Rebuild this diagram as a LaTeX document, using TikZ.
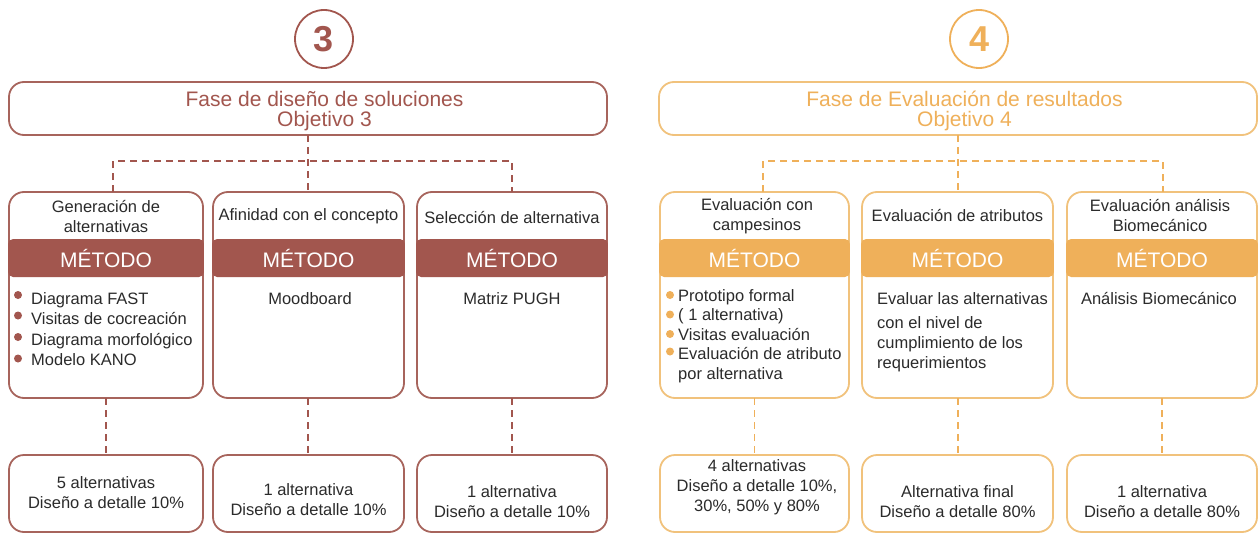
\documentclass[tikz,border=0pt]{standalone}
\usepackage{fontspec}
\setmainfont{Liberation Sans}
\definecolor{brn}{HTML}{A2564E}
\definecolor{brnline}{HTML}{A7645C}
\definecolor{gld}{HTML}{EFB05A}
\definecolor{gldline}{HTML}{F1C27C}
\definecolor{txt}{HTML}{2B2B2B}
\tikzset{
  pbox/.style={draw=#1, line width=1.8pt, rounded corners=15pt, fill=white, inner sep=0pt, outer sep=0pt},
  barbox/.style={fill=#1, rounded corners=5pt, inner sep=0pt, outer sep=0pt, text=white, font=\fontsize{21}{21}\selectfont},
  link/.style={draw=#1, line width=1.6pt, dash pattern=on 7pt off 5pt},
  numc/.style={circle, draw=#1, line width=1.8pt, minimum size=58pt, inner sep=0pt, text=#1, font=\fontsize{36}{36}\selectfont\bfseries},
  ttl/.style={text=#1, font=\fontsize{21}{20}\selectfont, align=center, inner sep=0pt},
  body/.style={text=txt, font=\fontsize{16.5}{20}\selectfont, align=center, inner sep=0pt},
  item/.style={text=txt, font=\fontsize{16.5}{20}\selectfont, anchor=base west, inner sep=0pt},
  dotb/.style={circle, fill=#1, minimum size=8pt, inner sep=0pt},
}
\begin{document}
\begin{tikzpicture}[x=1pt,y=-1pt]
\useasboundingbox[fill=white] (0,0) rectangle (1260,535);

% ================= LEFT: phase 3 =================
\node[numc=brn] (C3) at (324,39) {3};
\node[pbox=brnline, minimum width=598pt, minimum height=53pt] (T3) at (308,108.5) {};
\node[ttl=brn] (T3t) at (324.5,111) {Fase de diseño de soluciones\\Objetivo 3};

\node[pbox=brnline, minimum width=194pt, minimum height=206pt] (B31) at (106,295) {};
\node[pbox=brnline, minimum width=191pt, minimum height=206pt] (B32) at (308.5,295) {};
\node[pbox=brnline, minimum width=190pt, minimum height=206pt] (B33) at (512,295) {};

\node[barbox=brn, minimum width=195.8pt, minimum height=38pt] (M31) at (106,258) {MÉTODO};
\node[barbox=brn, minimum width=192.8pt, minimum height=38pt] (M32) at (308.5,258) {MÉTODO};
\node[barbox=brn, minimum width=191.8pt, minimum height=38pt] (M33) at (512,258) {MÉTODO};

\node[body] (H31) at (106,217) {Generación de\\alternativas};
\node[body] (H32) at (308.5,216) {Afinidad con el concepto};
\node[body] (H33) at (512,218) {Selección de alternativa};

\node[item] (L1) at (31,304) {Diagrama FAST};
\node[item] (L2) at (31,324.5) {Visitas de cocreación};
\node[item] (L3) at (31,345) {Diagrama morfológico};
\node[item] (L4) at (31,365.5) {Modelo KANO};
\node[dotb=brn] (d1) at (18,295) {};
\node[dotb=brn] (d2) at (18,315.5) {};
\node[dotb=brn] (d3) at (18,337) {};
\node[dotb=brn] (d4) at (18,358.5) {};

\node[body] (P32) at (310,299) {Moodboard};
\node[body] (P33) at (512,299) {Matriz PUGH};

\node[pbox=brnline, minimum width=194pt, minimum height=77pt] (D31) at (106,493.5) {};
\node[pbox=brnline, minimum width=191pt, minimum height=77pt] (D32) at (308.5,493.5) {};
\node[pbox=brnline, minimum width=190pt, minimum height=77pt] (D33) at (512,493.5) {};
\node[body] (E31) at (106,493) {5 alternativas\\Diseño a detalle 10\%};
\node[body] (E32) at (308.5,500) {1 alternativa\\Diseño a detalle 10\%};
\node[body] (E33) at (512,502) {1 alternativa\\Diseño a detalle 10\%};

\coordinate (hL1) at (113,161);
\coordinate (hL3) at (512,161);
\draw[link=brn] (T3.south) -- (T3.south |- B32.north);
\draw[link=brn] (B31.north -| hL1) -- (hL1) -- (hL3) -- (B33.north -| hL3);
\draw[link=brn] (B31.south) -- (D31.north);
\draw[link=brn] (B32.south -| T3.south) -- (D32.north -| T3.south);
\draw[link=brn] (B33.south) -- (D33.north);

% ================= RIGHT: phase 4 =================
\node[numc=gld] (C4) at (979,39) {4};
\node[pbox=gldline, minimum width=598pt, minimum height=53pt] (T4) at (958,108.5) {};
\node[ttl=gld] (T4t) at (964.5,111) {Fase de Evaluación de resultados\\Objetivo 4};

\node[pbox=gldline, minimum width=189pt, minimum height=206pt] (B41) at (754.5,295) {};
\node[pbox=gldline, minimum width=191pt, minimum height=206pt] (B42) at (957.5,295) {};
\node[pbox=gldline, minimum width=190pt, minimum height=206pt] (B43) at (1162,295) {};

\node[barbox=gld, minimum width=190.8pt, minimum height=38pt] (M41) at (754.5,258) {MÉTODO};
\node[barbox=gld, minimum width=192.8pt, minimum height=38pt] (M42) at (957.5,258) {MÉTODO};
\node[barbox=gld, minimum width=191.8pt, minimum height=38pt] (M43) at (1162,258) {MÉTODO};

\node[body] (H41) at (757,216) {Evaluación con\\campesinos};
\node[body] (H42) at (957.5,216) {Evaluación de atributos};
\node[body] (H43) at (1160,216) {Evaluación análisis\\Biomecánico};

\node[item] (R1) at (678,301) {Prototipo formal};
\node[item] (R2) at (678,320.5) {( 1 alternativa)};
\node[item] (R3) at (678,340) {Visitas evaluación};
\node[item] (R4) at (678,359.5) {Evaluación de atributo};
\node[item] (R5) at (678,379) {por alternativa};
\node[dotb=gld] (e1) at (670,295) {};
\node[dotb=gld] (e2) at (670,314.5) {};
\node[dotb=gld] (e3) at (670,334) {};
\node[dotb=gld] (e4) at (670,351.5) {};

\node[item] (S1) at (877,304) {Evaluar las alternativas};
\node[item] (S2) at (877,328) {con el nivel de};
\node[item] (S3) at (877,348) {cumplimiento de los};
\node[item] (S4) at (877,368) {requerimientos};

\node[body] (P43) at (1159,299) {Análisis Biomecánico};

\node[pbox=gldline, minimum width=189pt, minimum height=77pt] (D41) at (754.5,493.5) {};
\node[pbox=gldline, minimum width=191pt, minimum height=77pt] (D42) at (957.5,493.5) {};
\node[pbox=gldline, minimum width=190pt, minimum height=77pt] (D43) at (1162,493.5) {};
\node[body] (E41) at (757,487) {4 alternativas\\Diseño a detalle 10\%,\\30\%, 50\% y 80\%};
\node[body] (E42) at (957.5,502) {Alternativa final\\Diseño a detalle 80\%};
\node[body] (E43) at (1162,502) {1 alternativa\\Diseño a detalle 80\%};

\coordinate (hR1) at (763,161);
\coordinate (hR3) at (1163,161);
\draw[link=gld] (T4.south) -- (T4.south |- B42.north);
\draw[link=gld] (B41.north -| hR1) -- (hR1) -- (hR3) -- (B43.north -| hR3);
\draw[link=gld] (B41.south) -- (D41.north);
\draw[link=gld] (B42.south -| T4.south) -- (D42.north -| T4.south);
\draw[link=gld] (B43.south) -- (D43.north);
\end{tikzpicture}
\end{document}
